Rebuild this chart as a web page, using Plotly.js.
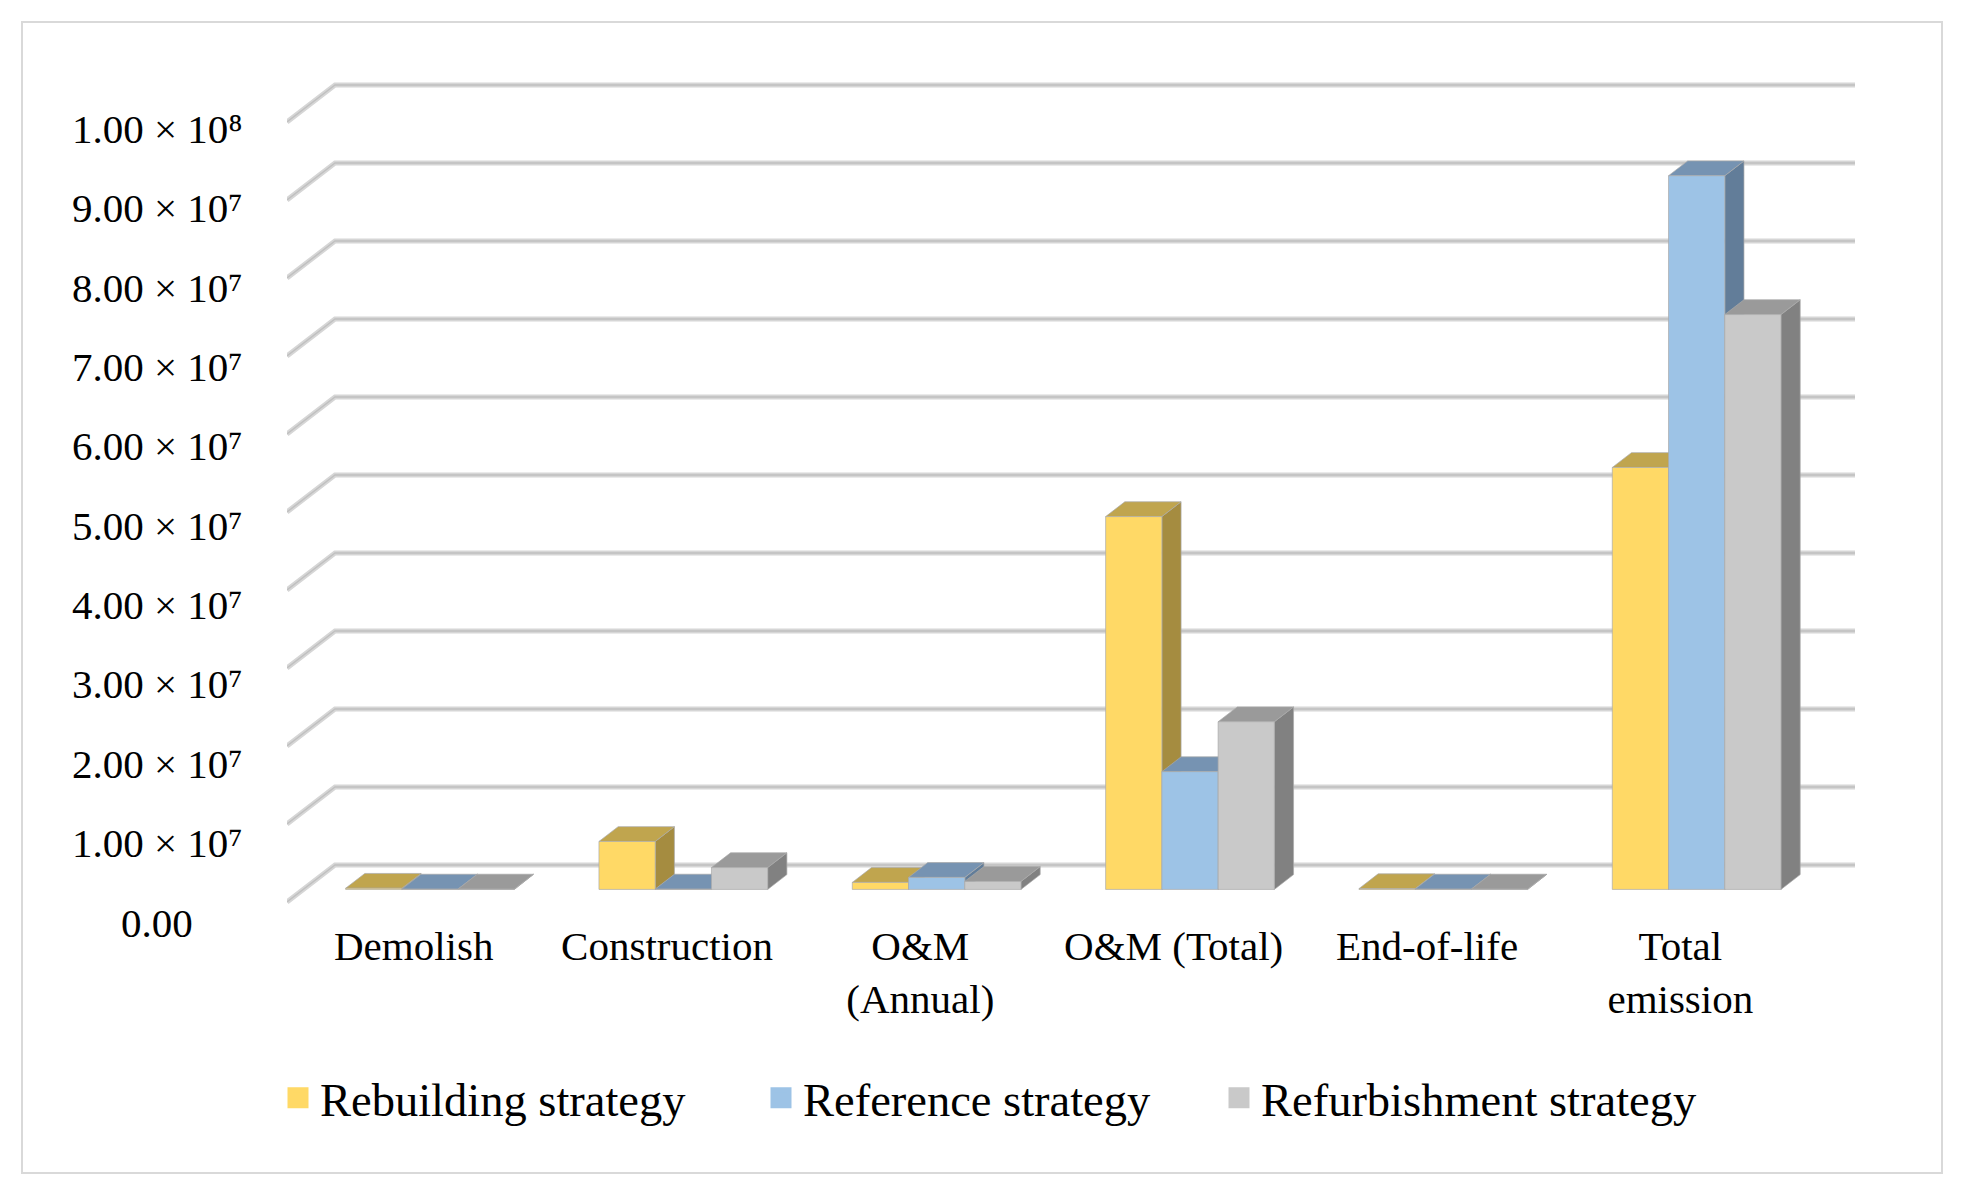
<!DOCTYPE html>
<html><head><meta charset="utf-8">
<script src="https://cdn.plot.ly/plotly-3.0.1.min.js"></script>
<style>
html,body{margin:0;padding:0;background:#fff;}
#chart{width:1962px;height:1194px;}
#frame{position:absolute;left:21px;top:21px;width:1918px;height:1149px;border:2px solid #d9d9d9;pointer-events:none;}
</style>
</head><body>
<div id="chart"></div><div id="frame"></div>
<script>
// ---------- data ----------
const categories = ['Demolish', 'Construction', 'O&M<br>(Annual)', 'O&M (Total)', 'End-of-life', 'Total<br>emission'];
const seriesNames = ['Rebuilding strategy', 'Reference strategy', 'Refurbishment strategy'];
const rebuilding    = [1.5e5, 6.15e6, 0.90e6, 4.78e7, 1.0e5, 5.41e7];
const reference     = [0.5e5, 0.5e5,  1.54e6, 1.51e7, 0.5e5, 9.15e7];
const refurbishment = [0.5e5, 2.80e6, 1.03e6, 2.15e7, 0.5e5, 7.37e7];
const yTickValues = [0, 1e7, 2e7, 3e7, 4e7, 5e7, 6e7, 7e7, 8e7, 9e7, 1e8];
const yTickLabels = ['0.00', '1.00 × 10⁷', '2.00 × 10⁷', '3.00 × 10⁷', '4.00 × 10⁷', '5.00 × 10⁷',
  '6.00 × 10⁷', '7.00 × 10⁷', '8.00 × 10⁷', '9.00 × 10⁷', '1.00 × 10⁸'];

// ---------- styling / geometry ----------
const W = 1962, H = 1194;
const L = 287, R = 1855, T = 80, B = 940;      // plot area in px
const floorFrontPx = 902;                      // px of value 0 on the front plane
const pxPerUnitX = (R - 48 - L) / 6;           // category spacing in px
const DX = 48 / pxPerUnitX;                    // full depth offset (x units)
const pxPerVal = 78 / 1e7;
const DY = 37 / pxPerVal;                      // full depth offset (value units)
const xRange = [-0.5, 5.5 + DX];
const yRange = [-(B - floorFrontPx) / pxPerVal, (floorFrontPx - T) / pxPerVal];
const barW = 0.222, d0 = 0.34, d1 = 0.74;
const FONT = 'Liberation Serif, Times New Roman, serif';

const faceColors = [
  {front: '#FFD966', top: '#C0A54E', side: '#A58C40'},
  {front: '#9DC3E6', top: '#7693B2', side: '#627D99'},
  {front: '#C9C9C9', top: '#9A9A9A', side: '#818181'}
];
const allSeries = [rebuilding, reference, refurbishment];

const traces = [];

// gridlines (back wall + side wall)
const gx = [], gy = [];
yTickValues.forEach(v => {
  gx.push(-0.5, -0.5 + DX, 5.5 + DX, null);
  gy.push(v, v + DY, v + DY, null);
});
traces.push({type: 'scatter', mode: 'lines', x: gx, y: gy, line: {color: '#d6d6d6', width: 5}, hoverinfo: 'skip', showlegend: false});
traces.push({type: 'scatter', mode: 'lines', x: gx, y: gy, line: {color: '#c0c0c0', width: 1.5}, hoverinfo: 'skip', showlegend: false});

// 3D bars: side, top and front faces per series, drawn left to right
allSeries.forEach((vals, s) => {
  const fx = [], fy = [], tx = [], ty = [], sx = [], sy = [];
  const ddx = (d1 - d0) * DX, ddy = (d1 - d0) * DY;
  vals.forEach((v, i) => {
    const x0 = i - 1.5 * barW + s * barW + d0 * DX;
    const x1 = x0 + barW;
    const b = d0 * DY;
    fx.push(x0, x1, x1, x0, x0, null); fy.push(b, b, b + v, b + v, b, null);
    tx.push(x0, x1, x1 + ddx, x0 + ddx, x0, null); ty.push(b + v, b + v, b + v + ddy, b + v + ddy, b + v, null);
    sx.push(x1, x1 + ddx, x1 + ddx, x1, x1, null); sy.push(b, b + ddy, b + v + ddy, b + v, b, null);
  });
  const c = faceColors[s];
  const edge = {color: 'rgba(170,170,170,0.7)', width: 1};
  traces.push({type: 'scatter', mode: 'lines', x: sx, y: sy, fill: 'toself', fillcolor: c.side, line: edge, hoverinfo: 'skip', showlegend: false});
  traces.push({type: 'scatter', mode: 'lines', x: tx, y: ty, fill: 'toself', fillcolor: c.top, line: edge, hoverinfo: 'skip', showlegend: false});
  traces.push({type: 'scatter', mode: 'lines', x: fx, y: fy, fill: 'toself', fillcolor: c.front, line: edge, hoverinfo: 'skip', showlegend: false});
});

// legend entries
const legendKeys = ['legend', 'legend2', 'legend3'];
seriesNames.forEach((name, s) => {
  traces.push({type: 'scatter', mode: 'markers', x: [null], y: [null], name: name, legend: legendKeys[s],
    marker: {symbol: 'square', size: 16, color: faceColors[s].front, line: {color: faceColors[s].front, width: 5}}});
});

const px2paperX = p => (p - L) / (R - L);
const px2paperY = p => (B - p) / (B - T);

// y tick labels (centred, as in the original)
const annotations = yTickValues.map((v, k) => {
  const labelPx = 922.5 - 79.35 * v / 1e7;
  return {x: px2paperX(157), xref: 'paper', y: (floorFrontPx - labelPx) / pxPerVal, yref: 'y',
    text: yTickLabels[k], showarrow: false, xanchor: 'center', yanchor: 'middle',
    font: {family: FONT, size: 41, color: '#000'}};
});

const legendBase = {orientation: 'h', xanchor: 'left', yanchor: 'middle', y: px2paperY(1098),
  font: {family: FONT, size: 46.5, color: '#000'}, bgcolor: 'rgba(0,0,0,0)', borderwidth: 0,
  itemwidth: 34, itemclick: false, itemdoubleclick: false};
const legendLeftPx = [276, 759, 1217];

const layout = {
  width: W, height: H,
  margin: {l: L, r: W - R, t: T, b: H - B, pad: 0},
  paper_bgcolor: '#fff', plot_bgcolor: 'rgba(0,0,0,0)',
  showlegend: true,
  hovermode: false,
  xaxis: {range: xRange, tickmode: 'array', tickvals: categories.map((c, i) => i), ticktext: categories,
    showgrid: false, zeroline: false, showline: false, ticks: '', fixedrange: true,
    tickfont: {family: FONT, size: 41, color: '#000'}, ticklabelstandoff: -22, automargin: false},
  yaxis: {range: yRange, visible: false, showgrid: false, zeroline: false, fixedrange: true},
  annotations: annotations,
  legend:  Object.assign({}, legendBase, {x: px2paperX(legendLeftPx[0])}),
  legend2: Object.assign({}, legendBase, {x: px2paperX(legendLeftPx[1])}),
  legend3: Object.assign({}, legendBase, {x: px2paperX(legendLeftPx[2])})
};

Plotly.newPlot('chart', traces, layout, {displayModeBar: false, staticPlot: true});
</script>
</body></html>
